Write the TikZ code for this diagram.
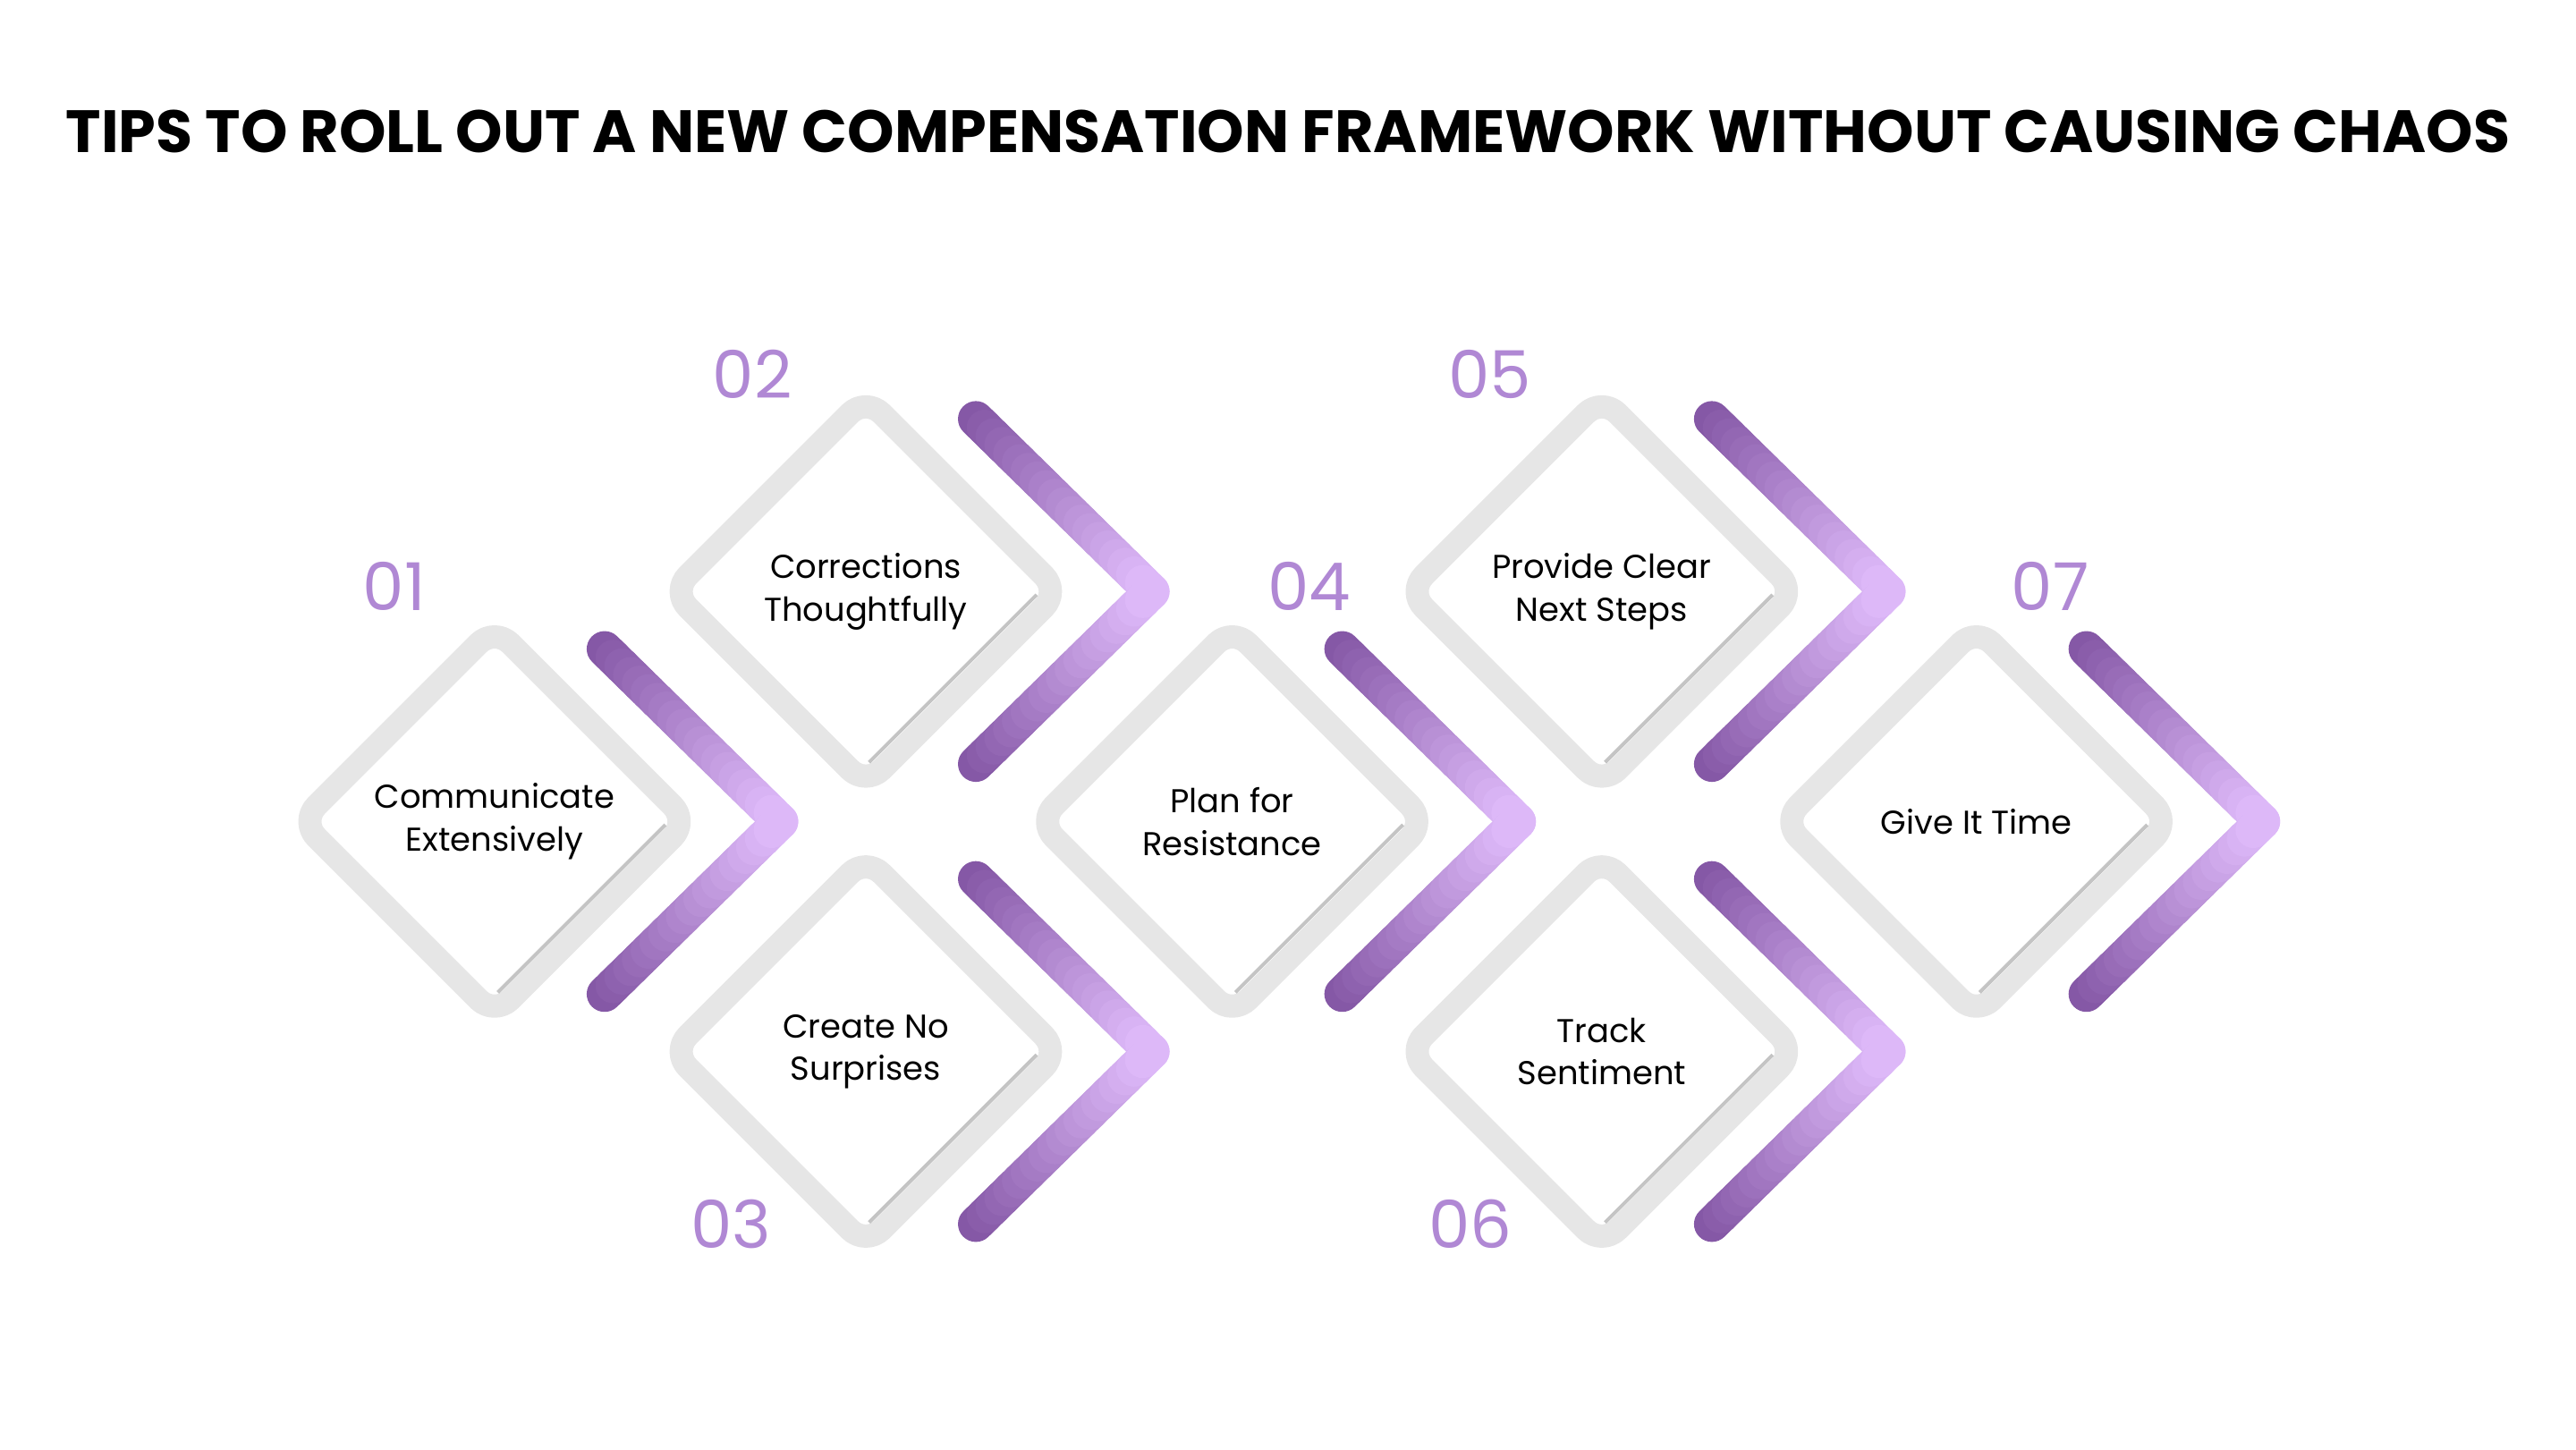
\documentclass[tikz,border=0pt]{standalone}
\usepackage{fontspec}
\setmainfont{Poppins}
\definecolor{pdark}{HTML}{8558A6}
\definecolor{plight}{HTML}{DDB8F8}
\definecolor{pnum}{HTML}{B088D4}
\definecolor{dgray}{HTML}{E6E6E6}
\definecolor{sgray}{HTML}{C4C4C4}
\begin{document}
\begin{tikzpicture}[x=0.018367cm,y=-0.018367cm,
  outline/.style={draw=dgray,line width=0.26cm,rounded corners=0.25cm,line join=round},
  shadowline/.style={draw=sgray,line width=0.04cm},
  lbl/.style={font=\fontsize{10.5}{13.5}\selectfont,align=center,text=black},
  num/.style={font=\fontsize{21}{21}\selectfont,text=pnum}]
\useasboundingbox (0,0) rectangle (1568,882);
\node[font=\fontsize{19}{19}\selectfont\bfseries] (title) at (784,80) {TIPS TO ROLL OUT A NEW COMPENSATION FRAMEWORK WITHOUT CAUSING CHAOS};
\foreach \cx/\cy/\n/\t/\nx/\ny in {301/500/1/{Communicate\\Extensively}/240/357,
  527/360/2/{Corrections\\Thoughtfully}/458/228,
  527/640/3/{Create No\\Surprises}/445/745,
  750/500/4/{Plan for\\Resistance}/797/357,
  975/360/5/{Provide Clear\\Next Steps}/907/228,
  975/640/6/{Track\\Sentiment}/895/745,
  1203/500/7/{Give It Time}/1248/357}{
  \draw[outline] (\cx-118,\cy) -- (\cx,\cy-118) -- (\cx+118,\cy) -- (\cx,\cy+118) -- cycle;
  \draw[shadowline] (\cx+104,\cy+2) -- (\cx+2,\cy+104);
  \node[lbl] (t\n) at (\cx,\cy) {\t};
  \node[num] (n\n) at (\nx,\ny) {0\n};
  \foreach \s in {-1,1}{
    \foreach \i in {0,...,19}{
      \pgfmathsetmacro{\pa}{\i/20}
      \pgfmathsetmacro{\pb}{(\i+1)/20}
      \pgfmathsetmacro{\pc}{100*\i/19}
      \draw[line width=0.4cm,line cap=round,color=plight!\pc!pdark]
        ({\cx+67+107*\pa},{\cy+\s*105*(1-\pa)}) -- ({\cx+67+107*\pb},{\cy+\s*105*(1-\pb)});
    }
  }
}
\end{tikzpicture}
\end{document}
